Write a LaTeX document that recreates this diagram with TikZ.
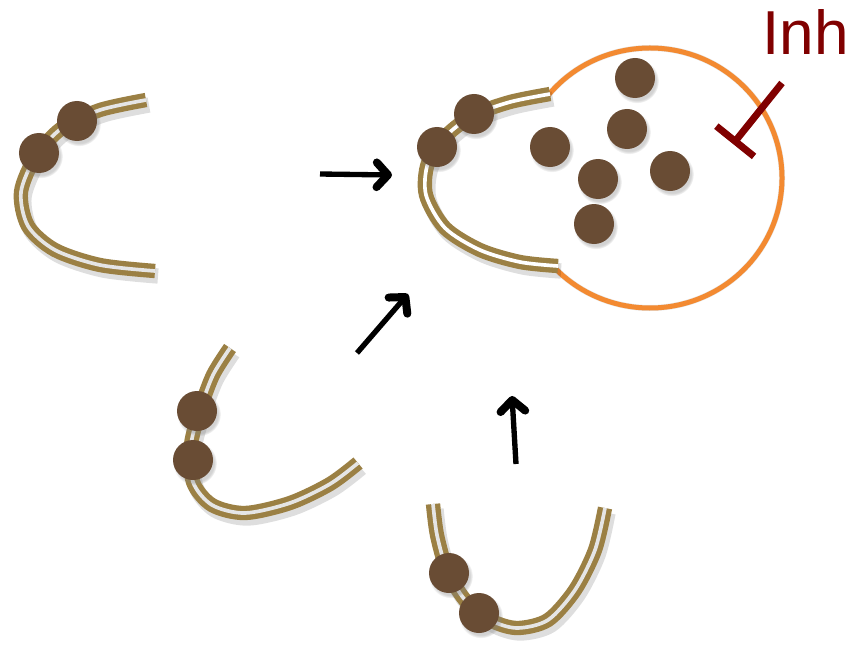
\documentclass[tikz,border=0pt]{standalone}
\usepackage{fontspec}
\setmainfont{Liberation Sans}
\usetikzlibrary{arrows.meta,shadows}

\definecolor{strandcol}{HTML}{9B8044}
\definecolor{beadcol}{HTML}{694C34}
\definecolor{vesiclecol}{HTML}{F38A31}
\definecolor{inhcol}{HTML}{800000}

\tikzset{
	strand/.style={line width=4.3mm, draw=strandcol},
	strandgap/.style={line width=1.1mm},
	strandshade/.style={line width=4.6mm, draw=black, opacity=0.13},
	bead/.style={circle, fill=beadcol, minimum size=1.2cm, inner sep=0pt,
		circular drop shadow={shadow xshift=1.5pt, shadow yshift=-2.5pt, opacity=0.35}},
	push/.style={line width=1.6mm, -{Straight Barb[length=3.4mm, width=7.4mm, line width'=2.4mm, round]}},
	membrane/.style={line width=1.5mm, draw=vesiclecol},
	inhibit/.style={line width=2.1mm, draw=inhcol, -{Bar[width=14.5mm]}},
}
\def\dna[#1]#2{%
	\draw[strandshade, shift={(3,5)}] plot[smooth] coordinates {#2};
	\draw[strand] plot[smooth] coordinates {#2};
	\draw[strandgap, draw=#1] plot[smooth] coordinates {#2};}

\begin{document}
\begin{tikzpicture}[x=0.03cm, y=-0.03cm]
			%%%%% START %%%%%
			\useasboundingbox[fill=white] (0, 0) rectangle (849, 648);
			
			% strand, upper left
			\dna[gray!20]{(146,100) (100,110) (62,128) (36,156) (21,192) (28,226) (55,250) (100,265) (155,271)}
			\node[bead] (ul1) at (77, 121) {};
			\node[bead] (ul2) at (39, 153) {};
			
			% strand, lower left
			\dna[gray!20]{(230,348) (213,375) (200,410) (191,445) (193,482) (212,505) (245,513) (290,503) (330,484) (358,463)}
			\node[bead] (ll1) at (197, 411) {};
			\node[bead] (ll2) at (193, 460) {};
			
			% strand, bottom
			\dna[gray!20]{(433,504) (437,535) (447,570) (465,600) (490,620) (517,628) (548,620) (575,590) (595,550) (605,508)}
			\node[bead] (bt1) at (449, 573) {};
			\node[bead] (bt2) at (479, 613) {};
			
			% vesicle with loaded strand
			\coordinate (vc) at (650, 178);
			\draw[line width=1.8mm, draw=black, opacity=0.1, shift={(3,5)}] (vc) ++(-142:132 and 130) arc[start angle=-142, end angle=139, x radius=132, y radius=130];
			\draw[membrane] (vc) ++(-142:132 and 130) arc[start angle=-142, end angle=139, x radius=132, y radius=130];
			\dna[white]{(550,94) (510,102) (474,115) (447,135) (428,163) (426,195) (445,228) (480,250) (520,262) (558,266)}
			\node[bead] (vs1) at (474, 114) {};
			\node[bead] (vs2) at (437, 147) {};
			
			\node[bead] (in1) at (635, 78) {};
			\node[bead] (in2) at (627, 129) {};
			\node[bead] (in3) at (550, 147) {};
			\node[bead] (in4) at (598, 179) {};
			\node[bead] (in5) at (670, 171) {};
			\node[bead] (in6) at (594, 224) {};
			
			% inhibitor
			\coordinate (inhroot) at (782, 83);
			\coordinate (inhbar) at (733, 144);
			\draw[inhibit] (inhroot) -- (inhbar);
			\node[anchor=base west, inner sep=0pt, text=inhcol, font=\fontsize{53}{60}\selectfont] (inhtext) at (762, 55) {Inh};
			
			% arrows into the vesicle
			\coordinate (a1s) at (320, 174);
			\coordinate (a1e) at (392, 175);
			\coordinate (a2s) at (357, 353);
			\coordinate (a2e) at (408, 294);
			\coordinate (a3s) at (516, 464);
			\coordinate (a3e) at (512, 396);
			\draw[push] (a1s) -- (a1e);
			\draw[push] (a2s) -- (a2e);
			\draw[push] (a3s) -- (a3e);
			
			%%%%% END %%%%%
\end{tikzpicture}
\end{document}
